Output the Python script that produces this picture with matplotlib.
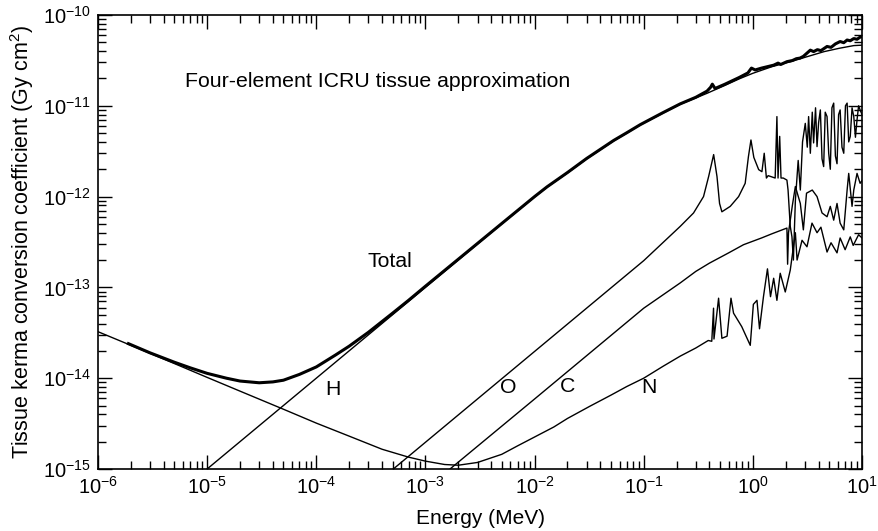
import matplotlib
matplotlib.use("Agg")
import matplotlib.pyplot as plt
from matplotlib.ticker import LogLocator, NullFormatter

plt.rcParams['font.family'] = ['Liberation Sans', 'DejaVu Sans']
plt.rcParams['mathtext.fontset'] = 'custom'
plt.rcParams['mathtext.rm'] = 'Liberation Sans'
plt.rcParams['mathtext.it'] = 'Liberation Sans:italic'

# energies in MeV, kerma coefficients in Gy cm^2
e_total = [1.9e-6, 3e-6, 5e-6, 7e-6, 1e-5, 1.5e-5, 2e-5, 3e-5, 4e-5, 5e-5, 7e-5,
           1e-4, 1.5e-4, 2e-4, 3e-4, 5e-4, 7e-4, 1e-3, 5e-3, 1e-2, 1.3e-2,
           2e-2, 3e-2, 5.3e-2, 7e-2, 9.3e-2, 0.15, 0.216, 0.3, 0.38, 0.41,
           0.425, 0.45, 0.55, 0.75, 0.9, 0.97, 1.05, 1.2, 1.55, 1.7, 1.8, 2.05,
           2.3, 2.5, 2.7, 2.9, 3.36, 3.6, 3.9, 4.2, 4.78, 5.2, 5.7, 6.3, 6.8,
           7.3, 7.8, 8.4, 9.0, 9.6, 10]
k_total = [2.4e-14, 1.9e-14, 1.5e-14, 1.3e-14, 1.13e-14, 1.0e-14, 9.3e-15,
           8.9e-15, 9.1e-15, 9.5e-15, 1.1e-14, 1.33e-14, 1.8e-14, 2.25e-14,
           3.2e-14, 5.2e-14, 7.2e-14, 1.03e-13, 5.05e-13, 1.0e-12, 1.28e-12,
           1.84e-12, 2.63e-12, 4.15e-12, 5.05e-12, 6.2e-12, 8.4e-12, 1.05e-11,
           1.24e-11, 1.45e-11, 1.6e-11, 1.73e-11, 1.55e-11, 1.72e-11, 2.05e-11,
           2.3e-11, 2.6e-11, 2.48e-11, 2.6e-11, 2.8e-11, 2.95e-11, 2.85e-11,
           3.06e-11, 3.15e-11, 3.3e-11, 3.35e-11, 3.5e-11, 4.1e-11, 3.95e-11,
           4.15e-11, 4.05e-11, 4.5e-11, 4.4e-11, 4.8e-11, 5.1e-11, 4.95e-11,
           5.3e-11, 5.2e-11, 5.5e-11, 5.4e-11, 5.7e-11, 5.8e-11]

e_h = [1e-5, 1e-4, 1e-3, 5e-3, 1e-2, 1.3e-2, 2e-2, 3e-2, 5.3e-2, 7e-2, 9.3e-2,
       0.15, 0.216, 0.3, 0.379, 0.55, 0.75, 1.0, 1.5, 2.2, 3.13, 4.5, 6.2,
       8.4, 10]
k_h = [1e-15, 1e-14, 1e-13, 5e-13, 9.9e-13, 1.27e-12, 1.82e-12, 2.6e-12,
       4.1e-12, 5.0e-12, 6.15e-12, 8.3e-12, 1.04e-11, 1.22e-11, 1.37e-11,
       1.67e-11, 1.98e-11, 2.28e-11, 2.7e-11, 3.05e-11, 3.47e-11, 3.95e-11,
       4.3e-11, 4.6e-11, 4.65e-11]

e_o = [5.08e-4, 1e-2, 0.1, 0.216, 0.286, 0.353, 0.393, 0.437, 0.469, 0.495,
       0.52, 0.62, 0.74, 0.85, 0.91, 0.96, 1.02, 1.13, 1.21, 1.27, 1.33, 1.38,
       1.6, 1.66, 1.70, 1.76, 1.81, 1.9, 2.05, 2.1, 2.2, 2.28, 2.35, 2.45, 2.6,
       2.72, 2.85, 3.02, 3.15, 3.24, 3.36, 3.5, 3.6, 3.75, 3.87, 4.0, 4.15,
       4.3, 4.45, 4.6, 4.78, 4.95, 5.12, 5.3, 5.5, 5.7, 5.9, 6.1, 6.3, 6.55,
       6.8, 7.05, 7.3, 7.55, 7.8, 8.1, 8.4, 8.7, 9.0, 9.3, 9.6, 10]
k_o = [1e-15, 1.97e-14, 1.97e-13, 4.7e-13, 6.6e-13, 1.0e-12, 1.66e-12, 2.9e-12,
       1.66e-12, 8.4e-13, 6.8e-13, 7.8e-13, 1.0e-12, 1.4e-12, 2.75e-12,
       4.2e-12, 2.7e-12, 1.98e-12, 1.88e-12, 3.0e-12, 1.6e-12, 1.7e-12,
       1.6e-12, 7.6e-12, 1.6e-12, 4.6e-12, 1.6e-12, 1.6e-12, 1.52e-12,
       1.18e-12, 4.7e-13, 3.6e-13, 2.0e-13, 9e-13, 2.5e-12, 1.18e-12, 4e-12,
       6.4e-12, 3.5e-12, 7.6e-12, 3.0e-12, 8.5e-12, 3.9e-12, 9.5e-12, 3.55e-12,
       6.5e-12, 9e-12, 2.6e-12, 2.14e-12, 8.5e-12, 7.6e-12, 3.0e-12, 2.0e-12,
       9.5e-12, 1.07e-11, 2.8e-12, 2.3e-12, 8.0e-12, 9e-12, 3.5e-12, 3.0e-12,
       1.0e-11, 1.07e-11, 4.0e-12, 4.6e-12, 9.5e-12, 7.6e-12, 4.5e-12,
       7e-12, 1.0e-11, 9e-12, 8e-12]

e_c = [1.68e-3, 1e-2, 0.1, 0.216, 0.3, 0.4, 0.6, 0.82, 1.2, 1.5, 2.05, 2.08,
       2.12, 2.3, 2.45, 2.72, 2.9, 3.1, 3.5, 3.87, 4.3, 4.78, 5.12, 5.5, 5.9,
       6.3, 6.8, 7.3, 7.55, 8.1, 8.4, 9.0, 9.6, 10]
k_c = [1e-15, 5.9e-15, 5.9e-14, 1.12e-13, 1.5e-13, 1.85e-13, 2.4e-13, 2.95e-13,
       3.5e-13, 3.9e-13, 4.5e-13, 1.8e-13, 4.0e-13, 8e-13, 1.29e-12, 8.4e-13,
       4.3e-13, 1.09e-12, 1.18e-12, 1.0e-12, 6.6e-13, 6.0e-13, 7.8e-13,
       5.5e-13, 8.4e-13, 5.1e-13, 4.3e-13, 1.18e-12, 1.8e-12, 7.8e-13,
       1.18e-12, 1.8e-12, 1.4e-12, 1.5e-12]

e_n = [1e-6, 2e-6, 5e-6, 1e-5, 2e-5, 5e-5, 1e-4, 2e-4, 4e-4, 7e-4, 1e-3,
       1.5e-3, 2e-3, 3e-3, 5e-3, 7e-3, 1e-2, 1.5e-2, 2e-2, 3.2e-2, 5e-2, 7e-2,
       0.1, 0.15, 0.216, 0.3, 0.39, 0.42, 0.436, 0.44, 0.485, 0.52, 0.58, 0.63,
       0.665, 0.79, 0.946, 1.01, 1.09, 1.15, 1.25, 1.36, 1.45, 1.55, 1.66,
       1.78, 1.98, 2.2, 2.45, 2.54, 2.82, 3.13, 3.48, 3.87, 4.2, 4.78, 5.2,
       5.9, 6.3, 7.0, 7.8, 8.3, 9.3, 10]
k_n = [3.25e-14, 2.3e-14, 1.45e-14, 1.02e-14, 7.2e-15, 4.55e-15, 3.2e-15,
       2.3e-15, 1.65e-15, 1.35e-15, 1.22e-15, 1.12e-15, 1.1e-15, 1.18e-15,
       1.45e-15, 1.8e-15, 2.25e-15, 2.9e-15, 3.6e-15, 4.9e-15, 6.5e-15,
       8.1e-15, 1.0e-14, 1.35e-14, 1.75e-14, 2.15e-14, 2.6e-14, 2.55e-14,
       5.9e-14, 2.7e-14, 7.6e-14, 2.75e-14, 2.9e-14, 7.6e-14, 5.2e-14,
       3.7e-14, 2.3e-14, 6.5e-14, 7.2e-14, 3.5e-14, 7.9e-14, 1.6e-13, 7.9e-14,
       1.26e-13, 7.2e-14, 1.43e-13, 8.9e-14, 1.55e-13, 4e-13, 2e-13, 3.3e-13,
       2.8e-13, 5.1e-13, 4e-13, 4.6e-13, 2.45e-13, 3.1e-13, 2.4e-13, 3.5e-13,
       2.6e-13, 3.6e-13, 2.9e-13, 3.8e-13, 3.5e-13]

fig = plt.figure(figsize=(8.79, 5.31), dpi=100)
ax = fig.add_axes([0.1115, 0.1168, 0.8692, 0.855])

ax.plot(e_h, k_h, color='black', lw=1.0)
ax.plot(e_o, k_o, color='black', lw=1.0)
ax.plot(e_c, k_c, color='black', lw=1.0)
ax.plot(e_n, k_n, color='black', lw=1.0)
ax.plot(e_total, k_total, color='black', lw=2.2)

ax.set_xscale('log')
ax.set_yscale('log')
ax.set_xlim(1e-6, 10)
ax.set_ylim(1e-15, 1e-10)

ax.xaxis.set_major_locator(LogLocator(base=10, numticks=20))
ax.xaxis.set_minor_locator(LogLocator(base=10, subs=range(2, 10), numticks=20))
ax.yaxis.set_minor_locator(LogLocator(base=10, subs=range(2, 10), numticks=20))
ax.xaxis.set_minor_formatter(NullFormatter())
ax.yaxis.set_minor_formatter(NullFormatter())

ax.tick_params(which='both', direction='in', top=True, right=True,
               labelsize=14.5, width=1.0, pad=5)
ax.tick_params(which='major', length=10)
ax.tick_params(which='minor', length=5.5)
for s in ax.spines.values():
    s.set_linewidth(1.2)

ax.set_xlabel('Energy (MeV)', fontsize=15, labelpad=8)
ax.set_ylabel('Tissue kerma conversion coefficient (Gy cm$^2$)', fontsize=15.5,
              labelpad=5)

ax.text(6.27e-6, 1.83e-11, 'Four-element ICRU tissue approximation',
        fontsize=15.3, va='center', ha='left')
ax.text(4.7e-4, 1.95e-13, 'Total', fontsize=15.3, ha='center', va='center')
ax.text(1.43e-4, 7.6e-15, 'H', fontsize=15.3, ha='center', va='center')
ax.text(5.73e-3, 7.8e-15, 'O', fontsize=15.3, ha='center', va='center')
ax.text(2.02e-2, 8.05e-15, 'C', fontsize=15.3, ha='center', va='center')
ax.text(1.107e-1, 7.8e-15, 'N', fontsize=15.3, ha='center', va='center')

fig.savefig('out.png', dpi=100)
